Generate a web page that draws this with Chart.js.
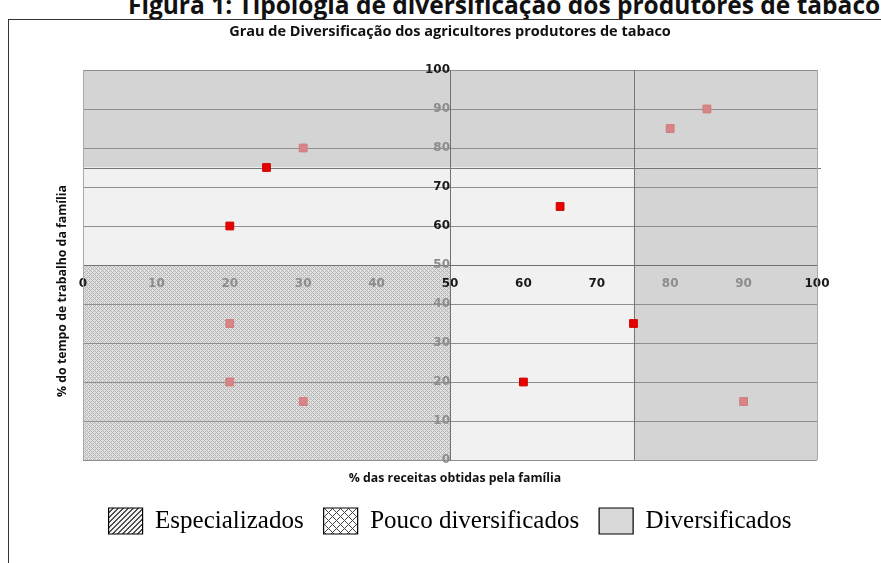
<!DOCTYPE html>
<html>
<head>
<meta charset="utf-8">
<script src="https://cdn.jsdelivr.net/npm/chart.js@4.4.1/dist/chart.umd.min.js"></script>
<style>
  html, body { margin: 0; padding: 0; background: #fff; overflow: hidden; width: 881px; height: 563px; }
  #heading { position: absolute; left: 128px; top: -7px; font: bold 24.5px "Open Sans", sans-serif; line-height: 24px; white-space: nowrap; color: #111; }
  #frame { position: absolute; left: 8px; top: 19px; width: 900px; height: 600px; border-left: 1.5px solid #333; border-top: 1.5px solid #333; box-sizing: border-box; background: #fff; }
  #c { position: absolute; left: 0; top: 0; }
</style>
</head>
<body>
<div id="heading">Figura 1: Tipologia de diversificação dos produtores de tabaco</div>
<div id="frame"></div>
<canvas id="c" width="881" height="563"></canvas>
<script>
// ---- data ----
const chartTitle = 'Grau de Diversificação dos agricultores produtores de tabaco';
const xAxisTitle = '% das receitas obtidas pela família';
const yAxisTitle = '% do tempo de trabalho da família';
const xTicks = [0, 10, 20, 30, 40, 50, 60, 70, 80, 90, 100];
const yTicks = [0, 10, 20, 30, 40, 50, 60, 70, 80, 90, 100];
const redX = [25, 20, 65, 75, 60];
const redY = [75, 60, 65, 35, 20];
const pinkX = [30, 80, 85, 20, 20, 30, 90];
const pinkY = [80, 85, 90, 35, 20, 15, 15];
const legendNames = ['Especializados', 'Pouco diversificados', 'Diversificados'];
// zones: [xFrom, xTo, yFrom, yTo]
const zoneGray = [[0, 100, 75, 100], [75, 100, 0, 75]];
const zoneLight = [[0, 75, 50, 75], [50, 75, 0, 50]];
const zoneHatch = [[0, 50, 0, 50]];
const dividerX = [75];
const dividerY = [75];

// ---- patterns ----
function pat(size, bg, fg, fn) {
  const c = document.createElement('canvas');
  c.width = c.height = size;
  const g = c.getContext('2d');
  g.fillStyle = bg; g.fillRect(0, 0, size, size);
  g.fillStyle = fg;
  for (let x = 0; x < size; x++) for (let y = 0; y < size; y++) if (fn(x, y, size)) g.fillRect(x, y, 1, 1);
  return c;
}
const ctx0 = document.getElementById('c').getContext('2d');
const hatchFine = ctx0.createPattern(pat(4, '#e0e0e0', '#b6b6b6', (x, y) => (x + y) % 4 === 0 || (x - y + 4) % 4 === 0), 'repeat');
const diagPat = ctx0.createPattern(pat(5, '#f4f4f4', '#505050', (x, y) => (x + y) % 5 === 0 || (x + y) % 5 === 1), 'repeat');
const crossPat = ctx0.createPattern(pat(8, '#ffffff', '#444444', (x, y) => (x + y) % 8 === 0 || (x - y + 8) % 8 === 0), 'repeat');
const legendFills = [diagPat, crossPat, '#d9d9d9'];

const dimX = [10, 20, 30, 40, 80, 90];
const dimY = [0, 10, 20, 30, 40, 50, 80, 90];

const zonesPlugin = {
  id: 'zones',
  beforeDraw(chart) {
    const {ctx, scales: {x, y}} = chart;
    const fillZ = (list, style) => list.forEach(z => {
      const l = x.getPixelForValue(z[0]), r = x.getPixelForValue(z[1]);
      const t = y.getPixelForValue(z[3]), b = y.getPixelForValue(z[2]);
      ctx.fillStyle = style;
      ctx.fillRect(l, t, r - l, b - t);
    });
    ctx.save();
    fillZ(zoneGray, '#d4d4d4');
    fillZ(zoneLight, '#f1f1f1');
    fillZ(zoneHatch, hatchFine);
    ctx.restore();
  },
  beforeDatasetsDraw(chart) {
    const {ctx, scales: {x, y}, chartArea: a} = chart;
    ctx.save();
    ctx.strokeStyle = '#777';
    ctx.lineWidth = 1;
    dividerX.forEach(v => {
      const px = Math.round(x.getPixelForValue(v)) + 0.5;
      ctx.beginPath(); ctx.moveTo(px, a.top); ctx.lineTo(px, a.bottom); ctx.stroke();
    });
    dividerY.forEach(v => {
      const py = Math.round(y.getPixelForValue(v)) + 0.5;
      ctx.beginPath(); ctx.moveTo(a.left, py); ctx.lineTo(a.right + 4, py); ctx.stroke();
    });
    ctx.strokeStyle = '#a8a8a8';
    ctx.beginPath(); ctx.moveTo(a.right + 0.5, a.top); ctx.lineTo(a.right + 0.5, a.bottom); ctx.stroke();
    ctx.beginPath(); ctx.moveTo(a.left + 0.5, a.top); ctx.lineTo(a.left + 0.5, a.bottom); ctx.stroke();
    ctx.restore();
  },
  afterDraw(chart) {
    const {ctx, chartArea: a} = chart;
    ctx.save();
    ctx.fillStyle = '#111';
    ctx.font = 'bold 12.3px "Open Sans", sans-serif';
    ctx.textAlign = 'center';
    ctx.textBaseline = 'middle';
    ctx.fillText(xAxisTitle, (a.left + a.right) / 2 + 5, a.bottom + 18);
    ctx.translate(a.left - 21, (a.top + a.bottom) / 2 + 26);
    ctx.rotate(-Math.PI / 2);
    ctx.fillText(yAxisTitle, 0, 0);
    ctx.restore();
  }
};

new Chart(document.getElementById('c'), {
  type: 'scatter',
  data: {
    datasets: [
      { label: 'a', data: redX.map((v, i) => ({x: v, y: redY[i]})), backgroundColor: '#e60000', borderColor: '#d00000', borderWidth: 1, pointStyle: 'rect', pointRadius: 5.5, pointHoverRadius: 5.5 },
      { label: 'b', data: pinkX.map((v, i) => ({x: v, y: pinkY[i]})), backgroundColor: '#d98587', borderColor: '#cf7a7c', borderWidth: 1, pointStyle: 'rect', pointRadius: 5.5, pointHoverRadius: 5.5 }
    ]
  },
  options: {
    responsive: false,
    animation: false,
    devicePixelRatio: 1,
    layout: { padding: { top: 23, left: 83, right: 64, bottom: 19 } },
    plugins: {
      tooltip: { enabled: false },
      title: {
        display: true, text: chartTitle, color: '#111',
        font: { family: '"Open Sans", sans-serif', size: 14.5, weight: 'bold' },
        padding: { top: 0, bottom: 29.6 }
      },
      legend: {
        display: true, position: 'bottom', onClick: null,
        title: { display: true, text: ' ', font: { size: 10 }, padding: { top: 8, bottom: 8 } },
        labels: {
          boxWidth: 34, boxHeight: 26, padding: 20, color: '#000',
          font: { family: '"Liberation Serif", "Times New Roman", serif', size: 25 },
          generateLabels: () => legendNames.map((n, i) => ({
            text: n, fillStyle: legendFills[i], strokeStyle: '#000', fontColor: '#000', lineWidth: 1.2, hidden: false, index: i
          }))
        }
      }
    },
    scales: {
      x: {
        type: 'linear', min: 0, max: 100, position: { y: 50 },
        afterBuildTicks: s => { s.ticks = xTicks.map(v => ({value: v})); },
        grid: { display: false },
        border: { display: true, color: '#707070', width: 1 },
        ticks: {
          padding: 4,
          font: { family: '"DejaVu Sans", sans-serif', size: 12, weight: 'bold' },
          color: c => dimX.includes(c.tick.value) ? '#8c8c8c' : '#1a1a1a'
        }
      },
      y: {
        type: 'linear', min: 0, max: 100, position: { x: 50 },
        afterBuildTicks: s => { s.ticks = yTicks.map(v => ({value: v})); },
        grid: { display: true, color: '#8e8e8e', lineWidth: 1, drawTicks: false },
        border: { display: true, color: '#707070', width: 1 },
        ticks: {
          padding: 12,
          font: { family: '"DejaVu Sans", sans-serif', size: 12, weight: 'bold' },
          color: c => dimY.includes(c.tick.value) ? '#8c8c8c' : '#1a1a1a'
        }
      }
    }
  },
  plugins: [zonesPlugin]
});
</script>
</body>
</html>
